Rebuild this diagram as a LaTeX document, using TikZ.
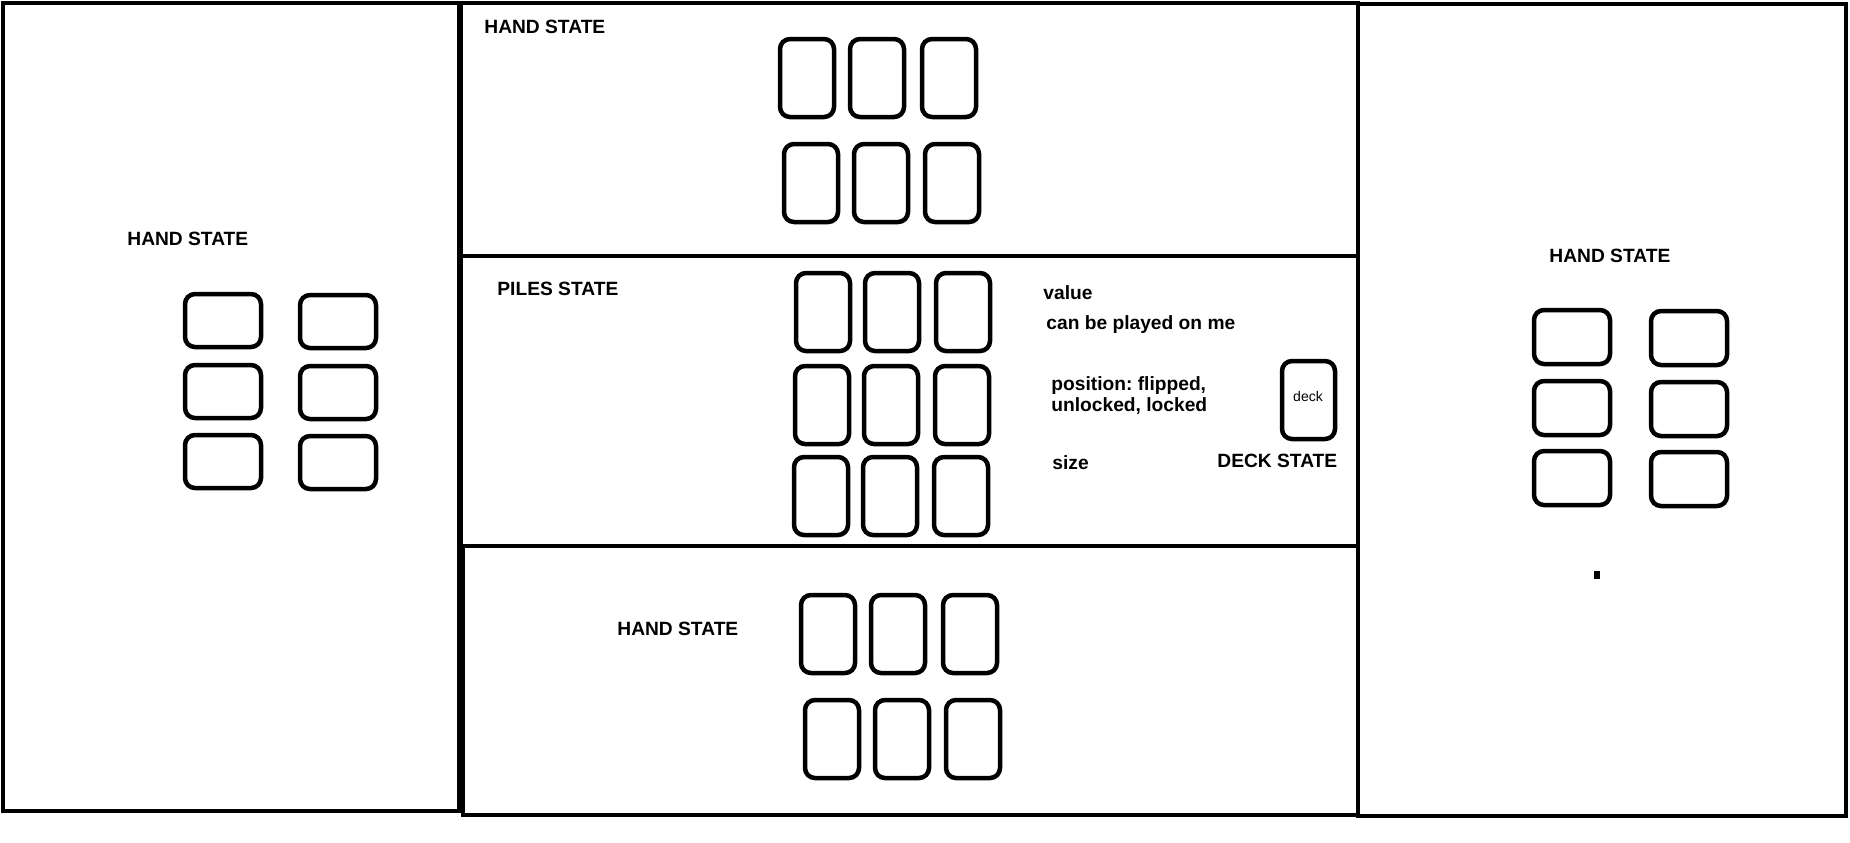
\documentclass[tikz,border=0pt]{standalone}
\usepackage{fontspec}
\setmainfont{Liberation Sans}
\usepackage{tikz}
\usetikzlibrary{positioning}
\frenchspacing

\begin{document}
\begin{tikzpicture}[x=0.5pt, y=-0.5pt,
    panel/.style={line width=2.25pt},
    card/.style={line width=2.25pt, rounded corners=5pt},
    statelabel/.style={font=\bfseries\fontsize{9.6}{10.5}\selectfont, inner sep=0pt, anchor=base west},
    infolabel/.style={font=\bfseries\fontsize{9.6}{10.5}\selectfont, inner sep=0pt, align=left}]
      \useasboundingbox (0,0) rectangle (1850,842);

      % Panels of the table
      \draw[panel] (3,3) rectangle (459,811);
      \draw[panel] (461,3) rectangle (1358,256);
      \draw[panel] (461,256) rectangle (1358,546);
      \draw[panel] (463,546) rectangle (1358,815);
      \draw[panel] (1358,4) rectangle (1846,816);

      % Left player
      \node[statelabel] (leftlabel) at (127,245) {HAND STATE};
      \draw[card] (185,294) rectangle ++(76,53);
      \draw[card] (300,295) rectangle ++(76,53);
      \draw[card] (185,365) rectangle ++(76,53);
      \draw[card] (300,366) rectangle ++(76,53);
      \draw[card] (185,435) rectangle ++(76,53);
      \draw[card] (300,436) rectangle ++(76,53);

      % Top player
      \node[statelabel] (toplabel) at (484,33) {HAND STATE};
      \draw[card] (780,39) rectangle ++(54,78);
      \draw[card] (850,39) rectangle ++(54,78);
      \draw[card] (922,39) rectangle ++(54,78);
      \draw[card] (784,144) rectangle ++(54,78);
      \draw[card] (854,144) rectangle ++(54,78);
      \draw[card] (925,144) rectangle ++(54,78);

      % Piles in the middle
      \node[statelabel] (pileslabel) at (497,295) {PILES STATE};
      \draw[card] (796,273) rectangle ++(54,78);
      \draw[card] (865,273) rectangle ++(54,78);
      \draw[card] (936,273) rectangle ++(54,78);
      \draw[card] (795,366) rectangle ++(54,78);
      \draw[card] (864,366) rectangle ++(54,78);
      \draw[card] (935,366) rectangle ++(54,78);
      \draw[card] (794,457) rectangle ++(54,78);
      \draw[card] (863,457) rectangle ++(54,78);
      \draw[card] (934,457) rectangle ++(54,78);

      % What a pile knows
      \node[infolabel, anchor=base west] (value) at (1043,299) {value};
      \node[infolabel, anchor=base west] (playable) at (1046,329) {can be played on me};
      \node[infolabel, anchor=north west] (position) at (1051,376) {position: flipped,\\unlocked, locked};
      \node[infolabel, anchor=base west] (size) at (1052,469) {size};

      % Deck
      \draw[card] (1282,361) rectangle ++(53,78);
      \node[font=\fontsize{7}{8}\selectfont, inner sep=0pt] (deck) at (1308,396) {deck};
      \node[statelabel] (decklabel) at (1217,467) {DECK STATE};

      % Bottom player
      \node[statelabel] (bottomlabel) at (617,635) {HAND STATE};
      \draw[card] (801,595) rectangle ++(54,78);
      \draw[card] (871,595) rectangle ++(54,78);
      \draw[card] (943,595) rectangle ++(54,78);
      \draw[card] (805,700) rectangle ++(54,78);
      \draw[card] (875,700) rectangle ++(54,78);
      \draw[card] (946,700) rectangle ++(54,78);

      % Right player
      \node[statelabel] (rightlabel) at (1549,262) {HAND STATE};
      \draw[card] (1534,310) rectangle ++(76,54);
      \draw[card] (1651,311) rectangle ++(76,54);
      \draw[card] (1534,381) rectangle ++(76,54);
      \draw[card] (1651,382) rectangle ++(76,54);
      \draw[card] (1534,451) rectangle ++(76,54);
      \draw[card] (1651,452) rectangle ++(76,54);
      \fill (1594,571) rectangle (1600,579);
    \end{tikzpicture}
\end{document}
